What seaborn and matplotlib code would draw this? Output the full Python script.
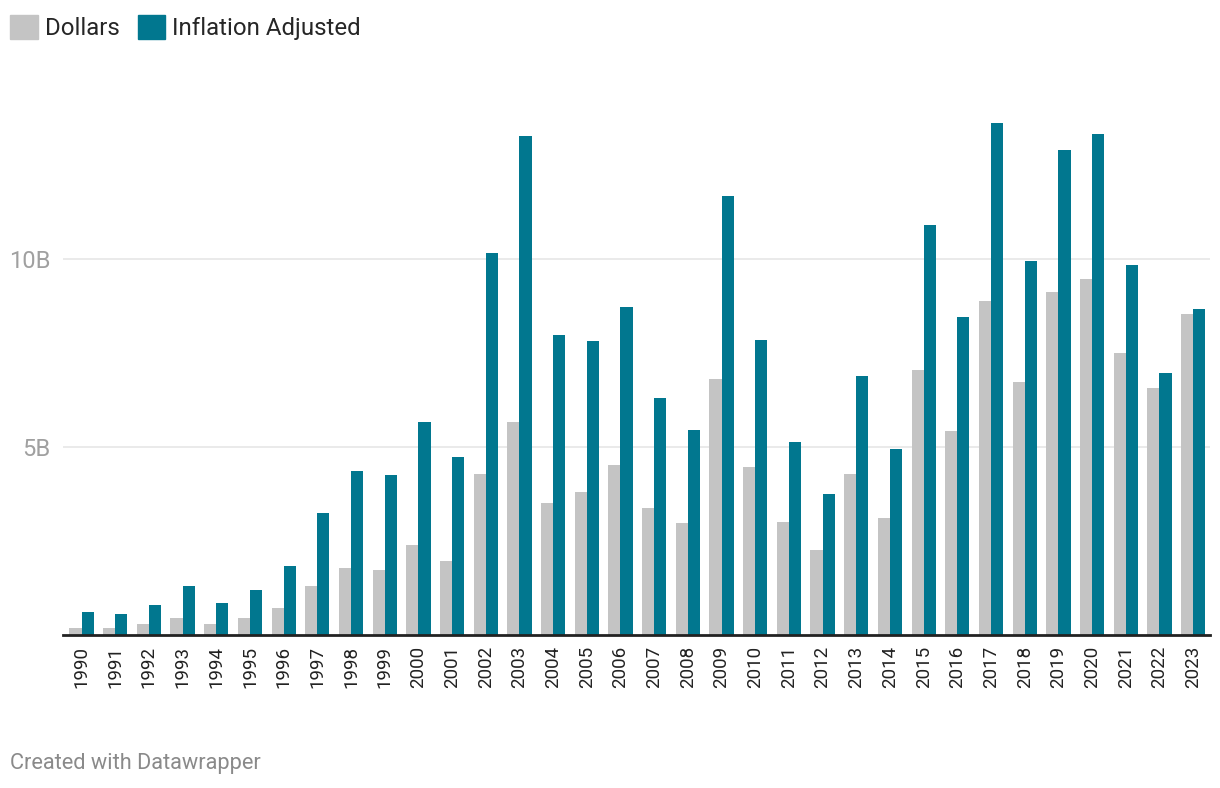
import numpy as np
import pandas as pd
import seaborn as sns
import matplotlib.pyplot as plt

# values in billions
years = [str(y) for y in range(1990, 2024)]
dollars = [0.19, 0.19, 0.28, 0.46, 0.29, 0.46, 0.72, 1.31, 1.79, 1.73,
           2.39, 1.97, 4.27, 5.65, 3.51, 3.79, 4.51, 3.37, 2.97, 6.80,
           4.46, 3.00, 2.26, 4.27, 3.10, 7.03, 5.41, 8.86, 6.71, 9.10,
           9.47, 7.48, 6.55, 8.54]
inflation_adjusted = [0.62, 0.56, 0.80, 1.31, 0.86, 1.20, 1.83, 3.24, 4.37, 4.24,
                      5.65, 4.72, 10.16, 13.25, 7.98, 7.80, 8.72, 6.29, 5.44, 11.67,
                      7.85, 5.12, 3.74, 6.87, 4.94, 10.89, 8.46, 13.60, 9.94, 12.88,
                      13.31, 9.83, 6.97, 8.65]
series_names = ["Dollars", "Inflation Adjusted"]
colors = ["#c4c4c4", "#01778f"]

df = pd.DataFrame({"year": years, "Dollars": dollars, "Inflation Adjusted": inflation_adjusted})
df = df.melt(id_vars="year", var_name="series", value_name="value")

sns.set_style("white")
plt.rcParams["font.family"] = ["Roboto", "DejaVu Sans"]

fig = plt.figure(figsize=(12.2, 7.88), dpi=100)
ax = fig.add_axes([63 / 1220, 153 / 788, 1147 / 1220, 527 / 788])

sns.barplot(data=df, x="year", y="value", hue="series", hue_order=series_names,
            palette=colors, width=0.72, gap=0, saturation=1, linewidth=0,
            ax=ax, legend=False)

ax.set_ylim(0, 14)
ax.set_xlim(-0.55, 33.5)
ax.set_yticks([5, 10])
ax.set_yticklabels(["5B", "10B"], color="#a0a0a0", fontsize=17)
ax.yaxis.grid(True, color="#e6e6e6", linewidth=1.2, zorder=0)
ax.set_axisbelow(True)
ax.tick_params(axis="y", length=0, pad=9)
ax.tick_params(axis="x", length=0, pad=8, labelsize=13.5, labelcolor="#222222")
plt.setp(ax.get_xticklabels(), rotation=90, va="top", ha="center")
ax.set_xlabel("")
ax.set_ylabel("")
for s in ["top", "right", "left"]:
    ax.spines[s].set_visible(False)
ax.spines["bottom"].set_color("#222222")
ax.spines["bottom"].set_linewidth(2)

# legend on top left
handles = [plt.Rectangle((0, 0), 1, 1, color=c) for c in colors]
fig.legend(handles, series_names, loc="upper left",
           bbox_to_anchor=(10 / 1220, 1 - 15 / 788),
           ncol=2, frameon=False, fontsize=17.3, handlelength=1.15, handleheight=1.15,
           handletextpad=0.3, columnspacing=0.75, borderaxespad=0, borderpad=0)

fig.text(10 / 1220, 1 - 763 / 788, "Created with Datawrapper", fontsize=15.7,
         color="#8a8a8a", va="center", ha="left")

fig.savefig("out.png", dpi=100)
